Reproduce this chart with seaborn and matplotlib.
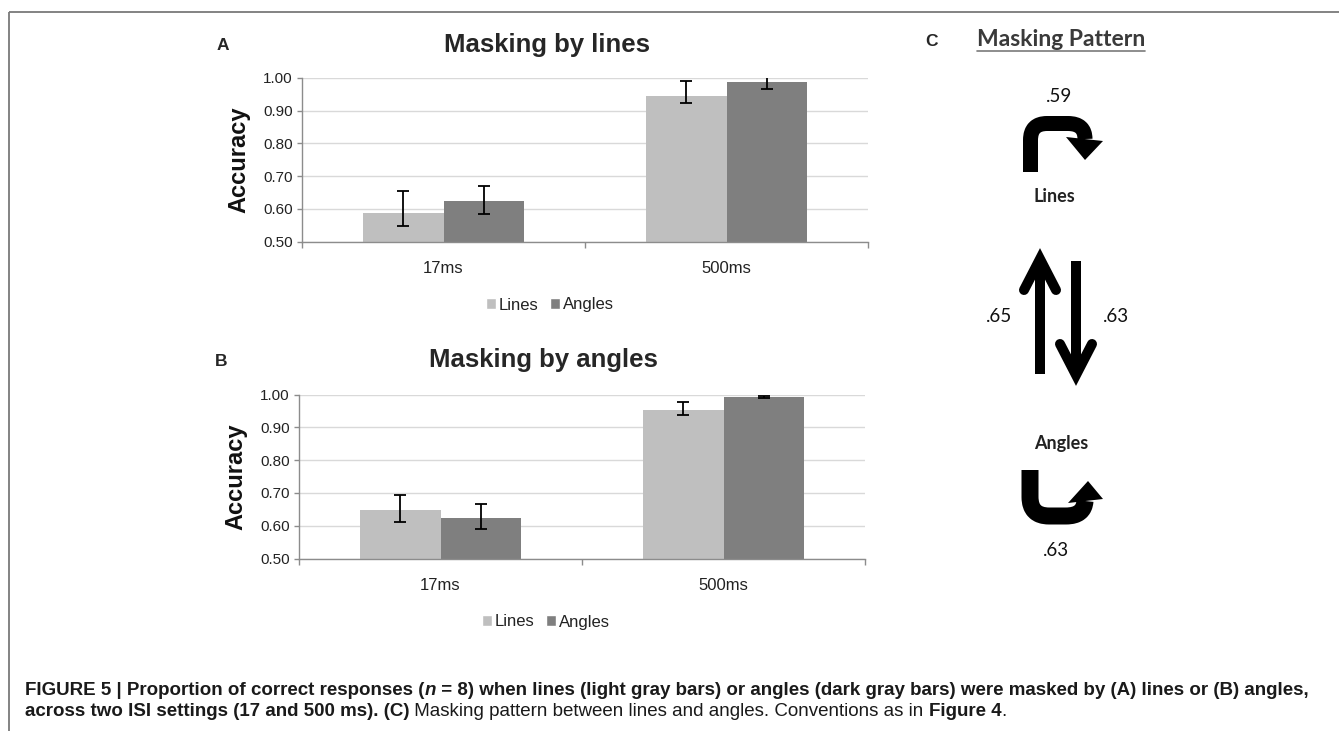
import numpy as np
import matplotlib
matplotlib.use("Agg")
import matplotlib.pyplot as plt
import seaborn as sns
import pandas as pd
from matplotlib.path import Path
from matplotlib.patches import PathPatch, Polygon, Patch

# ---- data ----
isi = ["17ms", "500ms"]
masks = ["Lines", "Angles"]

# (A) masking by lines
a_lines = [0.587, 0.943]
a_lines_lo = [0.547, 0.923]
a_lines_hi = [0.655, 0.989]
a_angles = [0.625, 0.986]
a_angles_lo = [0.585, 0.966]
a_angles_hi = [0.671, 1.006]

# (B) masking by angles
b_lines = [0.647, 0.952]
b_lines_lo = [0.612, 0.936]
b_lines_hi = [0.693, 0.978]
b_angles = [0.624, 0.993]
b_angles_lo = [0.589, 0.990]
b_angles_hi = [0.665, 0.996]

# (C) masking pattern: lines->lines, angles->lines, lines->angles, angles->angles
pattern_vals = [".59", ".65", ".63", ".63"]

yticks = [0.50, 0.60, 0.70, 0.80, 0.90, 1.00]

W, H = 1339, 731
light, dark = "#bfbfbf", "#7f7f7f"

sns.set_theme(style="white")
plt.rcParams['font.family'] = ['Liberation Sans', 'DejaVu Sans']

fig = plt.figure(figsize=(W / 100, H / 100), dpi=100)
fig.patch.set_facecolor("white")


def px(x, y):
    return x / W, 1 - y / H


def draw_panel(rect, lv, lo_l, hi_l, av, lo_a, hi_a, title, letter, title_xy, letter_xy, leg_xy, ylab_x):
    ax = fig.add_axes(rect)
    df = pd.DataFrame({"ISI": isi * 2,
                       "Type": ["Lines"] * 2 + ["Angles"] * 2,
                       "Accuracy": lv + av})
    sns.barplot(data=df, x="ISI", y="Accuracy", hue="Type", order=isi, hue_order=masks,
                palette=[light, dark], width=0.566, errorbar=None, saturation=1,
                legend=False, ax=ax, linewidth=0)
    for cont, v, lo, hi in zip(ax.containers, [lv, av], [lo_l, lo_a], [hi_l, hi_a]):
        xs = [b.get_x() + b.get_width() / 2 for b in cont]
        v = np.array(v)
        ax.errorbar(xs, v, yerr=[v - np.array(lo), np.array(hi) - v], fmt="none",
                    ecolor="black", elinewidth=1.3, capsize=4.3, capthick=1.3, zorder=5)
    ax.set_xlim(-0.5, 1.5)
    ax.set_ylim(0.5, 1.0)
    ax.set_yticks(yticks)
    ax.set_yticklabels(["%.2f" % t for t in yticks], fontsize=11, color="#222222")
    ax.yaxis.grid(True, color="#d9d9d9", lw=1)
    ax.set_axisbelow(True)
    for s in ["top", "right"]:
        ax.spines[s].set_visible(False)
    for s in ["left", "bottom"]:
        ax.spines[s].set_color("#8c8c8c")
        ax.spines[s].set_linewidth(1.0)
    ax.tick_params(axis="y", length=3.5, width=1, color="#8c8c8c", left=True, pad=3)
    ax.tick_params(axis="x", which="major", length=0, labelsize=12, labelcolor="#222222", pad=14)
    ax.set_xticks([-0.5, 0.5, 1.5], minor=True)
    ax.tick_params(axis="x", which="minor", length=4, width=1, color="#8c8c8c", bottom=True)
    ax.set_xlabel("")
    ax.set_ylabel("Accuracy", fontsize=17, fontweight="bold", color="#111111")
    ax.yaxis.set_label_coords(ylab_x, 0.5)
    fig.text(*px(*title_xy), title, fontsize=18.5, fontweight="bold", ha="center", va="center")
    fig.text(*px(*letter_xy), letter, fontsize=12.5, fontweight="bold", ha="center", va="center")
    handles = [Patch(facecolor=light), Patch(facecolor=dark)]
    ax.legend(handles, masks, loc="center", bbox_to_anchor=px(*leg_xy), bbox_transform=fig.transFigure,
              ncol=2, frameon=False, fontsize=12, handlelength=0.6, handleheight=0.6,
              handletextpad=0.15, columnspacing=0.7, borderpad=0, labelcolor="#222222")
    return ax


draw_panel([302 / W, 1 - 241.7 / H, 566 / W, 164 / H], a_lines, a_lines_lo, a_lines_hi,
           a_angles, a_angles_lo, a_angles_hi, "Masking by lines", "A",
           (547, 45), (223, 45), (550, 305), -0.092)
draw_panel([299 / W, 1 - 558.5 / H, 566 / W, 164 / H], b_lines, b_lines_lo, b_lines_hi,
           b_angles, b_angles_lo, b_angles_hi, "Masking by angles", "B",
           (543, 360), (221, 362), (546, 622), -0.092)

# ---- overlay in pixel coordinates: frame and panel C ----
axc = fig.add_axes([0, 0, 1, 1], zorder=-1)
axc.set_xlim(0, W)
axc.set_ylim(H, 0)
axc.axis("off")
axc.plot([9, W], [12, 12], color="#7a7a7a", lw=1.3, solid_capstyle="butt")
axc.plot([9, 9], [12, H], color="#7a7a7a", lw=1.3, solid_capstyle="butt")

axc.text(932, 41, "C", fontsize=12.5, fontweight="bold", ha="center", va="center")
tp = axc.text(1061, 40, "Masking Pattern", family=["Lato", "DejaVu Sans"], fontsize=16.5,
              fontweight="bold", color="#3a3a3a", ha="center", va="center")
renderer = fig.canvas.get_renderer()
bb = tp.get_window_extent(renderer)
axc.plot([bb.x0, bb.x1], [51, 51], color="#7a7a7a", lw=1.2)

lato = ["Lato", "DejaVu Sans"]
num_kw = dict(family=lato, fontsize=13.5, ha="center", va="center", color="#111111")
axc.text(1059, 97, pattern_vals[0], **num_kw)
axc.text(999, 316, pattern_vals[1], **num_kw)
axc.text(1116, 316, pattern_vals[2], **num_kw)
axc.text(1056, 550, pattern_vals[3], **num_kw)
axc.text(1054, 197, "Lines", family=lato, fontsize=13, fontweight="bold", ha="center", va="center", color="#222222")
axc.text(1061, 443, "Angles", family=lato, fontsize=13, fontweight="bold", ha="center", va="center", color="#222222")

C3, L2, M2 = Path.CURVE3, Path.LINETO, Path.MOVETO

# self-masking hook above "Lines"
top_path = Path([(1030.5, 172), (1030.5, 140), (1030.5, 123.5), (1047, 123.5), (1068, 123.5),
                 (1085, 123.5), (1085, 139)],
                [M2, L2, C3, C3, L2, C3, C3])
axc.add_patch(PathPatch(top_path, fill=False, lw=15 * 0.72, color="black",
                        capstyle="butt", joinstyle="round"))
axc.add_patch(Polygon([(1066, 137), (1103, 141), (1085, 160)], closed=True, color="black", lw=0))

# self-masking hook below "Angles"
bot_path = Path([(1030, 470), (1030, 497), (1030, 516), (1049, 516), (1066, 516),
                 (1084, 516), (1085, 501)],
                [M2, L2, C3, C3, L2, C3, C3])
axc.add_patch(PathPatch(bot_path, fill=False, lw=17 * 0.72, color="black",
                        capstyle="butt", joinstyle="round"))
axc.add_patch(Polygon([(1068, 503), (1103, 499), (1088, 481)], closed=True, color="black", lw=0))

# up arrow (angles -> lines) and down arrow (lines -> angles)
sw = 10 * 0.72
axc.plot([1040, 1040], [374, 262], color="black", lw=sw, solid_capstyle="butt")
axc.plot([1024, 1040, 1056], [290, 259, 290], color="black", lw=sw,
         solid_capstyle="round", solid_joinstyle="miter")
axc.plot([1076, 1076], [261, 372], color="black", lw=sw, solid_capstyle="butt")
axc.plot([1060, 1076, 1092], [344, 375, 344], color="black", lw=sw,
         solid_capstyle="round", solid_joinstyle="miter")

# ---- caption ----
cap_family = ["Liberation Sans Narrow", "Liberation Sans"]
line1 = [("FIGURE 5 | Proportion of correct responses (", "bold", "normal"),
         ("n", "bold", "italic"),
         (" = 8) when lines (light gray bars) or angles (dark gray bars) were masked by (A) lines or (B) angles,", "bold", "normal")]
line2 = [("across two ISI settings (17 and 500 ms). (C)", "bold", "normal"),
         (" Masking pattern between lines and angles. Conventions as in ", "normal", "normal"),
         ("Figure 4", "bold", "normal"),
         (".", "normal", "normal")]


def draw_runs(x, y, runs, size):
    out = []
    for s, wgt, sty in runs:
        # non-breaking spaces so that edge spaces are measured too
        t = fig.text(*px(x, y), s.replace(" ", "\u00a0"), fontsize=size, fontweight=wgt, fontstyle=sty,
                     family=cap_family, ha="left", va="baseline", color="#1a1a1a")
        x += t.get_window_extent(renderer).width
        out.append(t)
    return x, out


x_end, tmp = draw_runs(25, 695, line1, 11)
scale = (1316 - 25) / (x_end - 25)
for t in tmp:
    t.remove()
size = 11 * scale
draw_runs(25, 695, line1, size)
draw_runs(25, 716, line2, size)

fig.savefig("out.png", dpi=100, facecolor="white")
